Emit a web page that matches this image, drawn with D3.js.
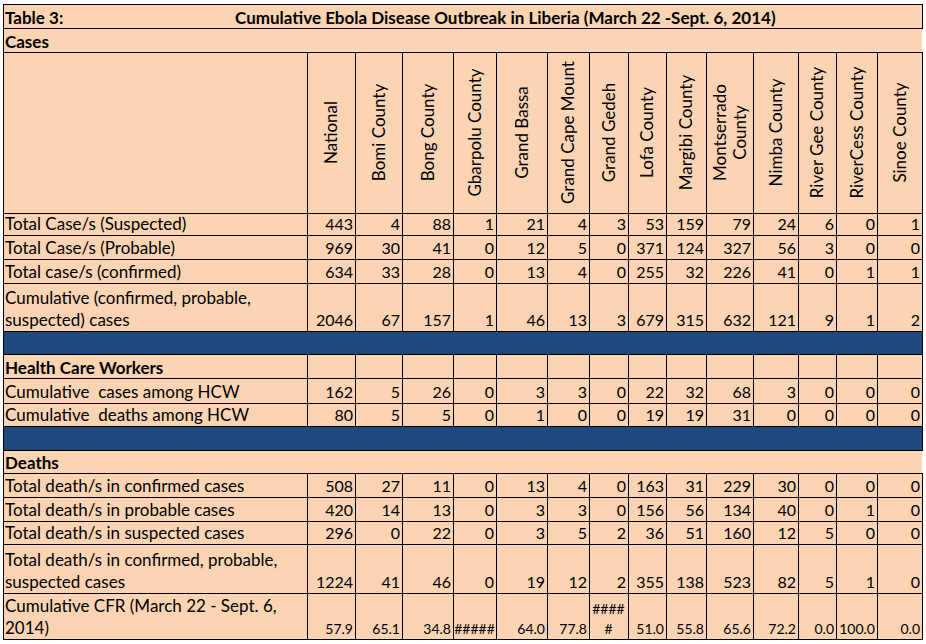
<!DOCTYPE html>
<html>
<head>
<meta charset="utf-8">
<script src="https://cdn.jsdelivr.net/npm/d3@7"></script>
<style>
	body { margin: 0; background: #fff; }
	text { font-family: Lato, "Open Sans", sans-serif; fill: #000; white-space: pre; }
</style>
</head>
<body>
<svg id="chart" width="926" height="644"></svg>
<script>
/* Table 3 values */
var tableNo = "Table 3:";
var tableTitle = "Cumulative Ebola Disease Outbreak in Liberia (March 22 -Sept. 6, 2014)";
var columns = ["National", "Bomi County", "Bong County", "Gbarpolu County", "Grand Bassa",
	"Grand Cape Mount", "Grand Gedeh", "Lofa County", "Margibi County", "Montserrado\nCounty",
	"Nimba County", "River Gee County", "RiverCess County", "Sinoe County"];

var caseLabels = ["Total Case/s (Suspected)", "Total Case/s (Probable)", "Total case/s (confirmed)",
	"Cumulative (confirmed, probable,\nsuspected) cases"];
var casesSuspected = [443, 4, 88, 1, 21, 4, 3, 53, 159, 79, 24, 6, 0, 1];
var casesProbable = [969, 30, 41, 0, 12, 5, 0, 371, 124, 327, 56, 3, 0, 0];
var casesConfirmed = [634, 33, 28, 0, 13, 4, 0, 255, 32, 226, 41, 0, 1, 1];
var casesCumulative = [2046, 67, 157, 1, 46, 13, 3, 679, 315, 632, 121, 9, 1, 2];

var hcwLabels = ["Cumulative  cases among HCW", "Cumulative  deaths among HCW"];
var hcwCases = [162, 5, 26, 0, 3, 3, 0, 22, 32, 68, 3, 0, 0, 0];
var hcwDeaths = [80, 5, 5, 0, 1, 0, 0, 19, 19, 31, 0, 0, 0, 0];

var deathLabels = ["Total death/s in confirmed cases", "Total death/s in probable cases",
	"Total death/s in suspected cases", "Total death/s in confirmed, probable,\nsuspected cases",
	"Cumulative CFR (March 22 - Sept. 6,\n2014)"];
var deathsConfirmed = [508, 27, 11, 0, 13, 4, 0, 163, 31, 229, 30, 0, 0, 0];
var deathsProbable = [420, 14, 13, 0, 3, 3, 0, 156, 56, 134, 40, 0, 1, 0];
var deathsSuspected = [296, 0, 22, 0, 3, 5, 2, 36, 51, 160, 12, 5, 0, 0];
var deathsTotal = [1224, 41, 46, 0, 19, 12, 2, 355, 138, 523, 82, 5, 1, 0];
// as displayed: Excel shows ##### where the cell is too narrow
var cfr = ["57.9", "65.1", "34.8", "#####", "64.0", "77.8", "#####", "51.0", "55.8", "65.6", "72.2", "0.0", "100.0", "0.0"];

/* layout */
var peach = "#fbd4b4", band = "#1f497d";
var X0 = 3, X1 = 922, Y0 = 4;
var labelWidth = 304;
var colWidths = [48, 47, 51, 43, 51, 42, 39, 38, 40, 47, 45, 38, 41, 45];
var edges = Array.from(d3.cumsum([X0 + labelWidth].concat(colWidths)));

var xLeft = d3.scaleOrdinal().domain(columns).range(edges.slice(0, -1));
var xRight = d3.scaleOrdinal().domain(columns).range(edges.slice(1));

var rows = [
	{kind: "title", h: 24},
	{kind: "section", text: "Cases", h: 24},
	{kind: "header", h: 161},
	{kind: "data", label: caseLabels[0], values: casesSuspected, h: 22},
	{kind: "data", label: caseLabels[1], values: casesProbable, h: 24},
	{kind: "data", label: caseLabels[2], values: casesConfirmed, h: 24},
	{kind: "data", label: caseLabels[3], values: casesCumulative, h: 48},
	{kind: "band", h: 23},
	{kind: "grid", text: "Health Care Workers", h: 24},
	{kind: "data", label: hcwLabels[0], values: hcwCases, h: 25},
	{kind: "data", label: hcwLabels[1], values: hcwDeaths, h: 23},
	{kind: "band", h: 24},
	{kind: "section", text: "Deaths", h: 23},
	{kind: "data", label: deathLabels[0], values: deathsConfirmed, h: 24},
	{kind: "data", label: deathLabels[1], values: deathsProbable, h: 24},
	{kind: "data", label: deathLabels[2], values: deathsSuspected, h: 23},
	{kind: "data", label: deathLabels[3], values: deathsTotal, h: 49},
	{kind: "data", label: deathLabels[4], values: cfr, h: 46, small: true}
];
var tops = Array.from(d3.cumsum([Y0].concat(rows.map(function(r){ return r.h; }))));
rows.forEach(function(r, i){ r.y0 = tops[i]; r.y1 = tops[i + 1]; });
var Y1 = tops[tops.length - 1];

var svg = d3.select("#chart");

/* fills */
svg.append("rect")
	.attr("x", X0).attr("y", Y0).attr("width", X1 - X0).attr("height", Y1 - Y0)
	.attr("fill", peach);
svg.selectAll("rect.band")
	.data(rows.filter(function(r){ return r.kind == "band"; }))
	.enter().append("rect")
	.attr("class", "band")
	.attr("x", X0).attr("y", function(d){ return d.y0; })
	.attr("width", X1 - X0).attr("height", function(d){ return d.h; })
	.attr("fill", band);

/* grid lines */
var lines = svg.append("g")
	.attr("stroke", "#000").attr("stroke-width", 1)
	.attr("shape-rendering", "crispEdges");

lines.selectAll("line.h")
	.data(tops)
	.enter().append("line")
	.attr("x1", X0).attr("x2", X1 + 1)
	.attr("y1", function(d){ return d + 0.5; }).attr("y2", function(d){ return d + 0.5; });

lines.append("line")
	.attr("x1", X0 + 0.5).attr("x2", X0 + 0.5).attr("y1", Y0).attr("y2", Y1 + 1);

rows.forEach(function(r){
	if (r.kind != "section") {
		lines.append("line")
			.attr("x1", X1 + 0.5).attr("x2", X1 + 0.5).attr("y1", r.y0).attr("y2", r.y1);
	}
	if (r.kind == "header" || r.kind == "data" || r.kind == "grid") {
		lines.selectAll(null)
			.data(columns)
			.enter().append("line")
			.attr("x1", function(d){ return xLeft(d) + 0.5; })
			.attr("x2", function(d){ return xLeft(d) + 0.5; })
			.attr("y1", r.y0).attr("y2", r.y1);
	}
});

/* texts */
var labelSize = 17, numSize = 16, smallSize = 14, lineStep = 22;
var texts = svg.append("g").style("font-size", labelSize + "px");

var titleRow = rows[0];
texts.append("text")
	.attr("x", X0 + 2).attr("y", titleRow.y1 - 4)
	.style("font-weight", "bold").text(tableNo);
texts.append("text")
	.attr("x", 235).attr("y", titleRow.y1 - 4)
	.style("font-weight", "bold").text(tableTitle);

rows.filter(function(r){ return r.kind == "section" || r.kind == "grid"; })
	.forEach(function(r){
		texts.append("text")
			.attr("x", X0 + 2).attr("y", r.y1 - 4)
			.style("font-weight", "bold").text(r.text);
	});

// rotated county headings, centred in the cell both ways
var head = rows[2];
var headMid = (head.y0 + head.y1) / 2;
columns.forEach(function(c){
	var parts = c.split("\n");
	var cx = (xLeft(c) + xRight(c)) / 2;
	parts.forEach(function(p, i){
		var bx = cx + 6 + (i - (parts.length - 1) / 2) * 20;
		texts.append("text")
			.attr("transform", "translate(" + bx + "," + headMid + ") rotate(-90)")
			.attr("text-anchor", "middle")
			.text(p);
	});
});

// row labels, bottom aligned like the spreadsheet
rows.filter(function(r){ return r.kind == "data"; }).forEach(function(r){
	var parts = r.label.split("\n");
	parts.forEach(function(p, i){
		texts.append("text")
			.attr("x", X0 + 2)
			.attr("y", r.y1 - 5 - (parts.length - 1 - i) * lineStep)
			.text(p);
	});

	var size = r.small ? smallSize : numSize;
	r.values.forEach(function(v, j){
		var col = columns[j];
		var label = String(v);
		var cell = texts.append("text")
			.style("font-size", size + "px")
			.attr("text-anchor", "end")
			.attr("x", xRight(col) - 2)
			.attr("y", r.y1 - 5)
			.text(label);
		var room = xRight(col) - xLeft(col) - 1;
		if (cell.node().getComputedTextLength() > room) {
			// wrap character by character, centred, as Excel does with wrapped cells
			cell.remove();
			var chunks = [], cur = "";
			var probe = texts.append("text").style("font-size", size + "px");
			for (var k = 0; k < label.length; k++) {
				probe.text(cur + label[k]);
				if (probe.node().getComputedTextLength() > room - 4 && cur) {
					chunks.push(cur); cur = label[k];
				} else {
					cur += label[k];
				}
			}
			chunks.push(cur);
			probe.remove();
			chunks.forEach(function(ch, n){
				texts.append("text")
					.style("font-size", size + "px")
					.attr("text-anchor", "middle")
					.attr("x", (xLeft(col) + xRight(col)) / 2)
					.attr("y", r.y1 - 5 - (chunks.length - 1 - n) * 20)
					.text(ch);
			});
		} else if (cell.node().getComputedTextLength() > room - 4) {
			// overfull but fitting: centre it so it stays inside the borders
			cell.attr("text-anchor", "middle").attr("x", (xLeft(col) + xRight(col)) / 2);
		}
	});
});
</script>
</body>
</html>
